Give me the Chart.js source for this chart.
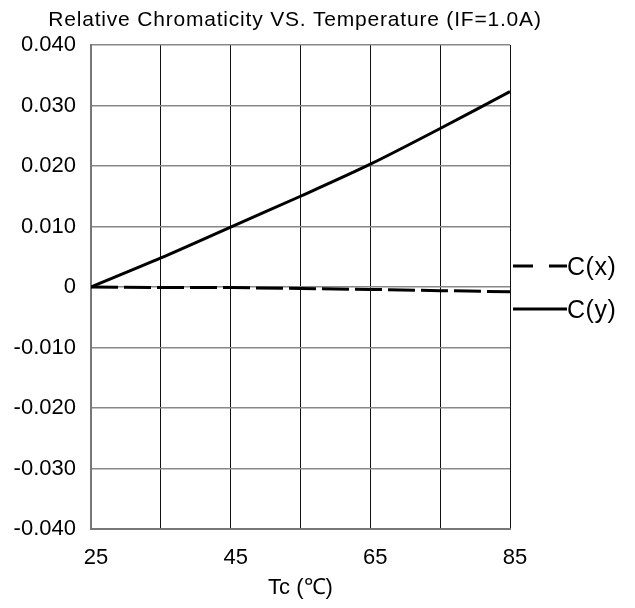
<!DOCTYPE html>
<html>
<head>
<meta charset="utf-8">
<script src="https://cdn.jsdelivr.net/npm/chart.js@4.4.1/dist/chart.umd.min.js"></script>
<style>
  body { margin: 0; background: #fff; }
  #wrap { width: 635px; height: 608px; }
</style>
</head>
<body>
<div id="wrap"><canvas id="chromaChart" width="635" height="608"></canvas></div>
<script>
const temps = [25, 35, 45, 55, 65, 75, 85];
const cxValues = [0, -0.0001, -0.0001, -0.00025, -0.0004, -0.0006, -0.0008];
const cyValues = [0, 0.0048, 0.0099, 0.0150, 0.0203, 0.0262, 0.0323];
const seriesNames = ['C(x)', 'C(y)'];
const xTickLabels = [25, 45, 65, 85];
const chartTitle = 'Relative Chromaticity VS. Temperature (IF=1.0A)';
const xAxisTitle = 'Tc (\u2103)';

const FONT = 'Arial, "Liberation Sans", sans-serif';

// title + legend drawn by hand so they sit where the original has them
const extrasPlugin = {
  id: 'extras',
  afterDraw(chart) {
    const ctx = chart.ctx;
    const area = chart.chartArea;
    ctx.save();
    ctx.fillStyle = '#000';
    ctx.font = '21px ' + FONT;
    ctx.letterSpacing = '0.8px';
    ctx.textAlign = 'center';
    ctx.textBaseline = 'middle';
    ctx.fillText(chartTitle, 295, 20);

    const midY = (area.top + area.bottom) / 2;
    const legendDash = [[20, 16], []];
    chart.data.datasets.forEach((ds, i) => {
      const y = midY - 21 + i * 43;
      ctx.beginPath();
      ctx.setLineDash(legendDash[i]);
      ctx.lineWidth = 3;
      ctx.strokeStyle = ds.borderColor;
      ctx.moveTo(area.right + 3, y);
      ctx.lineTo(area.right + 57, y);
      ctx.stroke();
      ctx.setLineDash([]);
      ctx.font = '25px ' + FONT;
      ctx.letterSpacing = '0.5px';
      ctx.textAlign = 'left';
      ctx.fillText(ds.label, area.right + 57, y + 2);
    });
    ctx.restore();
  }
};

const ctx = document.getElementById('chromaChart').getContext('2d');
new Chart(ctx, {
  type: 'line',
  data: {
    labels: temps,
    datasets: [
      {
        label: seriesNames[0],
        data: temps.map((t, i) => ({ x: t, y: cxValues[i] })),
        borderColor: '#000',
        borderWidth: 3,
        borderDash: [27, 6],
        pointRadius: 0,
        tension: 0
      },
      {
        label: seriesNames[1],
        data: temps.map((t, i) => ({ x: t, y: cyValues[i] })),
        borderColor: '#000',
        borderWidth: 3,
        pointRadius: 0,
        tension: 0.3
      }
    ]
  },
  options: {
    responsive: false,
    animation: false,
    layout: {
      padding: { top: 45, right: 125, left: 0, bottom: 0 }
    },
    plugins: {
      legend: { display: false },
      title: { display: false },
      tooltip: { enabled: false }
    },
    scales: {
      x: {
        type: 'linear',
        min: 25,
        max: 85,
        afterFit: (s) => { s.height = 79; },
        ticks: {
          stepSize: 10,
          autoSkip: false,
          maxRotation: 0,
          padding: 16,
          labelOffset: 5,
          color: '#000',
          font: { family: FONT, size: 22 },
          callback: (v) => xTickLabels.includes(v) ? String(v) : ''
        },
        grid: { color: '#111', lineWidth: 1, drawTicks: false },
        border: { color: '#777', width: 2 },
        title: {
          display: true,
          text: xAxisTitle,
          color: '#000',
          font: { family: FONT, size: 22 },
          padding: { top: 4, bottom: 7 }
        }
      },
      y: {
        min: -0.04,
        max: 0.04,
        afterFit: (s) => { s.width = 91; },
        ticks: {
          stepSize: 0.01,
          padding: 15,
          color: '#000',
          font: { family: FONT, size: 22 },
          callback: (v) => Math.abs(v) < 1e-9 ? '0' : v.toFixed(3)
        },
        grid: { color: '#888', lineWidth: 1.5, drawTicks: false },
        border: { color: '#777', width: 2 }
      }
    }
  },
  plugins: [extrasPlugin]
});
</script>
</body>
</html>
